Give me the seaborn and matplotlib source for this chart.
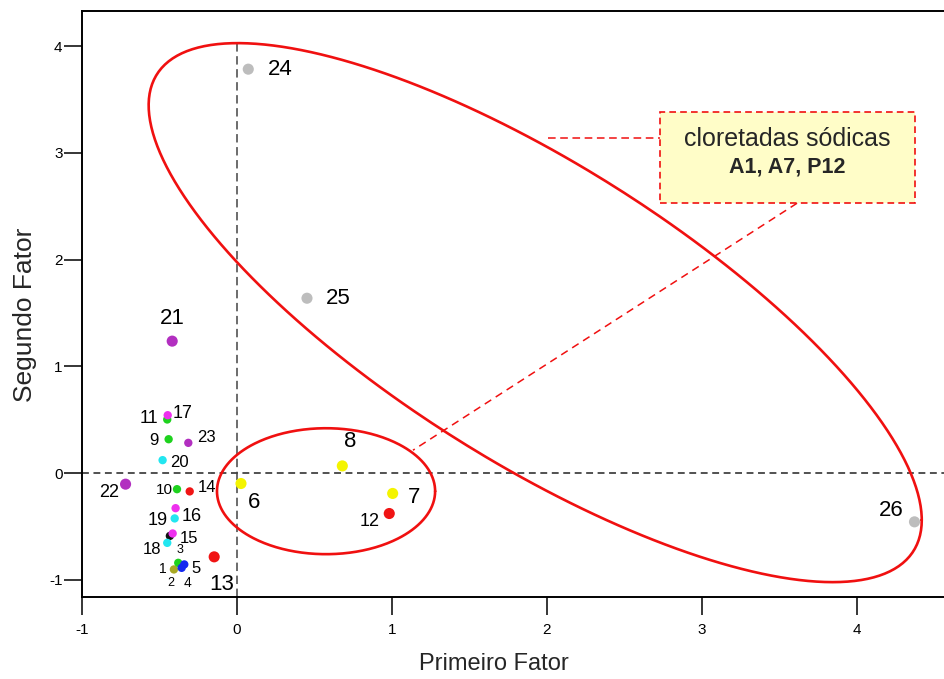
import numpy as np
import pandas as pd
import matplotlib
matplotlib.use("Agg")
import matplotlib.pyplot as plt
import seaborn as sns
from matplotlib.patches import Rectangle

# Sample scores on the first two factors
amostras = [str(i) for i in range(1, 27)]
fator1 = [-0.407, -0.379, -0.433, -0.357, -0.340, 0.026, 1.005, 0.680, -0.441,
          -0.387, -0.450, 0.983, -0.147, -0.305, -0.415, -0.396, -0.447, -0.450,
          -0.402, -0.480, -0.418, -0.719, -0.314, 0.073, 0.452, 4.373]
fator2 = [-0.902, -0.840, -0.588, -0.887, -0.855, -0.097, -0.190, 0.068, 0.318,
          -0.150, 0.503, -0.378, -0.784, -0.171, -0.565, -0.328, 0.543, -0.653,
          -0.424, 0.122, 1.237, -0.103, 0.284, 3.785, 1.639, -0.456]
grupos = ["oliva", "verde", "preto", "azul", "azul",
          "amarelo", "amarelo", "amarelo",
          "verde", "verde", "verde",
          "vermelho", "vermelho", "vermelho",
          "magenta", "magenta", "magenta",
          "ciano", "ciano", "ciano",
          "roxo", "roxo", "roxo",
          "cinza", "cinza", "cinza"]
destaque = ["6", "7", "8", "12", "13", "21", "22", "24", "25", "26"]

x_ticks = [-1, 0, 1, 2, 3, 4]
y_ticks = [-1, 0, 1, 2, 3, 4]

paleta = {"oliva": "#A8A824", "verde": "#1ED21E", "preto": "#111111",
          "azul": "#1428F0", "amarelo": "#F4F400", "vermelho": "#F01414",
          "magenta": "#EE30EE", "ciano": "#22E6F0", "roxo": "#B22FC0",
          "cinza": "#BDBDBD"}

# label offsets (pixels) and font sizes for each sample number
desloc = {"1": (-11, 0), "2": (-7, -20), "3": (10, -14), "4": (6, -15),
          "5": (12, -4), "6": (13, -19), "7": (21, -4), "8": (8, 24),
          "9": (-15, -1), "10": (-13, -1), "11": (-18, 1), "12": (-20, -8),
          "13": (8, -28), "14": (17, 4), "15": (16, -5), "16": (16, -8),
          "17": (15, 2), "18": (-15, -7), "19": (-17, -2), "20": (17, -2),
          "21": (0, 23), "22": (-16, -8), "23": (18, 5), "24": (32, 0),
          "25": (31, 0), "26": (-23, 11)}
tam_rot = {"1": 10, "2": 9, "3": 9, "4": 10, "5": 12, "6": 16, "7": 16,
           "8": 16, "9": 12, "10": 11, "11": 13, "12": 13, "13": 16, "14": 12,
           "15": 12, "16": 13, "17": 13, "18": 12, "19": 13, "20": 12,
           "21": 16, "22": 13, "23": 12, "24": 16, "25": 16, "26": 16}

df = pd.DataFrame({"amostra": amostras, "f1": fator1, "f2": fator2,
                   "grupo": grupos})
df["porte"] = np.where(df["amostra"].isin(destaque), "grande", "pequeno")

sns.set_style("ticks")
plt.rcParams["font.family"] = ["Liberation Sans", "DejaVu Sans"]

fig = plt.figure(figsize=(9.45, 6.79), dpi=100)
ax = fig.add_axes([0.0868, 0.1208, 0.9132, 0.863])
ax.set_xlim(-1.0, 4.57)
ax.set_ylim(-1.16, 4.33)

# reference lines through the origin
ax.axhline(0, color="#222222", lw=1.1, ls=(0, (4.5, 3)), zorder=1)
ax.plot([0, 0], [-1.16, 4.05], color="#444444", lw=1.1, ls=(0, (5.5, 3)),
        zorder=1)

sns.scatterplot(data=df, x="f1", y="f2", hue="grupo", palette=paleta,
                size="porte", sizes={"grande": 64, "pequeno": 36},
                edgecolor="none", linewidth=0, legend=False, ax=ax, zorder=3)

for a, xv, yv in zip(amostras, fator1, fator2):
    ax.annotate(a, (xv, yv), xytext=desloc[a], textcoords="offset pixels",
                ha="center", va="center", fontsize=tam_rot[a], color="black",
                zorder=4)

# grouping ellipses
t = np.linspace(0, 2 * np.pi, 400)
fase = np.deg2rad(50.3)
ax.plot(1.925 + 2.495 * np.cos(t), 1.504 - 2.525 * np.sin(t + fase),
        color="#F01010", lw=1.9, zorder=2)
ax.plot(0.575 + 0.704 * np.cos(t), -0.169 - 0.590 * np.sin(t),
        color="#F01010", lw=1.9, zorder=2)

# callout box with its leader lines
ax.add_patch(Rectangle((2.731, 2.529), 1.646, 0.853, facecolor="#FFFDC8",
                       edgecolor="#F01010", lw=1.2, ls=(0, (4, 2.5)),
                       zorder=5))
ax.plot([2.008, 2.731], [3.143, 3.143], color="#F01010", lw=1.1,
        ls=(0, (5, 3)), zorder=2)
ax.plot([3.615, 1.136], [2.529, 0.215], color="#F01010", lw=1.1,
        ls=(0, (5, 3.5)), zorder=2)
ax.text(3.554, 3.129, "cloretadas sódicas", ha="center", va="center",
        fontsize=18, zorder=6)
ax.text(3.554, 2.866, "A1, A7, P12", ha="center", va="center",
        fontsize=15.5, fontweight="bold", zorder=6)

ax.set_xticks(x_ticks)
ax.set_xticklabels([str(v) for v in x_ticks])
ax.set_yticks(y_ticks)
ax.set_yticklabels([str(v) for v in y_ticks])
ax.tick_params(axis="both", direction="out", length=13, width=1.1,
               labelsize=11, colors="black")
ax.tick_params(axis="x", pad=6)
ax.tick_params(axis="y", pad=1)

for lado in ["left", "bottom", "top"]:
    ax.spines[lado].set_linewidth(1.4)
    ax.spines[lado].set_color("black")
ax.spines["right"].set_visible(False)

ax.set_xlabel("Primeiro Fator", fontsize=17)
ax.set_ylabel("Segundo Fator", fontsize=19)
ax.xaxis.set_label_coords(0.477, -0.114)
ax.xaxis.label.set_va("center")
ax.yaxis.set_label_coords(-0.066, 0.481)
ax.yaxis.label.set_va("center")

fig.savefig("out.png", dpi=100)
